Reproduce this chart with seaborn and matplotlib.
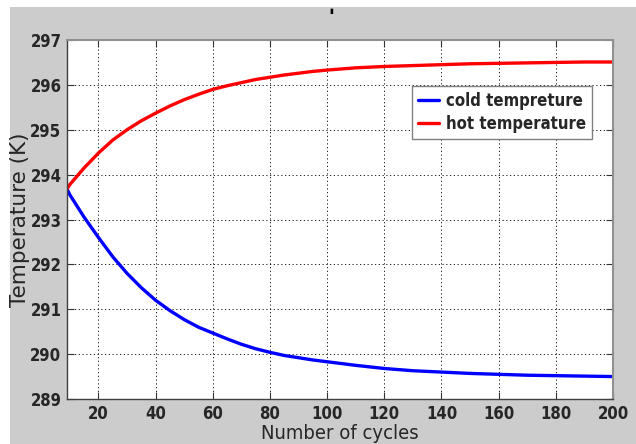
import matplotlib
matplotlib.use("Agg")
import matplotlib.pyplot as plt
import seaborn as sns
import pandas as pd
from matplotlib.patches import Rectangle
from matplotlib import font_manager

cycles = [9, 10, 15, 20, 25, 30, 35, 40, 45, 50, 55, 60, 65, 70, 75, 80, 85, 90,
          95, 100, 110, 120, 130, 140, 150, 160, 170, 180, 190, 200]
cold = [293.68, 293.55, 293.05, 292.6, 292.17, 291.8, 291.48, 291.2, 290.97,
        290.77, 290.6, 290.47, 290.34, 290.22, 290.12, 290.04, 289.97, 289.92,
        289.87, 289.83, 289.75, 289.68, 289.63, 289.6, 289.57, 289.55, 289.53,
        289.52, 289.51, 289.5]
hot = [293.68, 293.78, 294.15, 294.48, 294.77, 295.0, 295.2, 295.37, 295.53,
       295.67, 295.79, 295.9, 295.98, 296.05, 296.12, 296.17, 296.22, 296.26,
       296.3, 296.33, 296.38, 296.41, 296.43, 296.45, 296.47, 296.48, 296.49,
       296.5, 296.51, 296.51]
series_names = ["cold tempreture", "hot temperature"]
xticks = [20, 40, 60, 80, 100, 120, 140, 160, 180, 200]
yticks = [289, 290, 291, 292, 293, 294, 295, 296, 297]

df = pd.DataFrame({
    "cycles": cycles * 2,
    "temp": cold + hot,
    "series": [series_names[0]] * len(cycles) + [series_names[1]] * len(cycles),
})

sns.set_style("white")
names = sorted({f.name for f in font_manager.fontManager.ttflist})
narrow = None
for cand in ["Liberation Sans Narrow", "Arial Narrow", "DejaVu Sans Condensed"]:
    if cand in names:
        narrow = cand
        break
plt.rcParams["font.family"] = ["DejaVu Sans"]
ncfg = dict(family=narrow or "DejaVu Sans", stretch="condensed")

fig = plt.figure(figsize=(6.36, 4.44), dpi=100)
fig.patch.set_facecolor("white")
fig.patches.append(Rectangle((10 / 636, 0), 1, 1 - 7 / 444, transform=fig.transFigure,
                             facecolor="#cccccc", edgecolor="none", zorder=-10))
ax = fig.add_axes([67 / 636, 1 - 399 / 444, (613 - 67) / 636, (399 - 40) / 444])
ax.set_facecolor("white")

sns.lineplot(data=df, x="cycles", y="temp", hue="series",
             palette=["#0000ff", "#ff0000"], linewidth=2.4, ax=ax, legend=True)

ax.set_xlim(9, 200)
ax.set_ylim(289, 297)
ax.set_xticks(xticks)
ax.set_yticks(yticks)
ax.tick_params(axis="both", which="both", direction="in", length=5, width=0.8,
               top=True, right=True, bottom=True, left=True, pad=4,
               color="#333333")
ax.set_xticklabels([str(t) for t in xticks], fontsize=12, fontweight="bold", **ncfg)
ax.set_yticklabels([str(t) for t in yticks], fontsize=12, fontweight="bold", **ncfg)
ax.grid(True, color="black", linestyle=(0, (1.5, 3)), linewidth=0.6)
for side in ["left", "bottom"]:
    ax.spines[side].set_color("#404040")
    ax.spines[side].set_linewidth(1.0)
for side in ["top", "right"]:
    ax.spines[side].set_color("#909090")
    ax.spines[side].set_linewidth(1.5)

ax.set_xlabel("Number of cycles", fontsize=14.5, labelpad=1, **ncfg)
ax.set_ylabel("Temperature (K)", fontsize=15.5, labelpad=0)

leg = ax.legend(loc="upper right", bbox_to_anchor=((592 - 67) / 546, (399 - 86) / 359),
                borderaxespad=0, fancybox=False, framealpha=1, edgecolor="#808080",
                handlelength=1.3, handletextpad=0.4, borderpad=0.35, labelspacing=0.3,
                prop=font_manager.FontProperties(family=ncfg["family"], stretch="condensed",
                                                 weight="bold", size=12))
leg.get_frame().set_linewidth(1.0)

fig.text(331 / 636, 1 - 11 / 444, "\u25AE", fontsize=5, ha="center",
         va="center", color="black")

fig.savefig("out.png", dpi=100)
